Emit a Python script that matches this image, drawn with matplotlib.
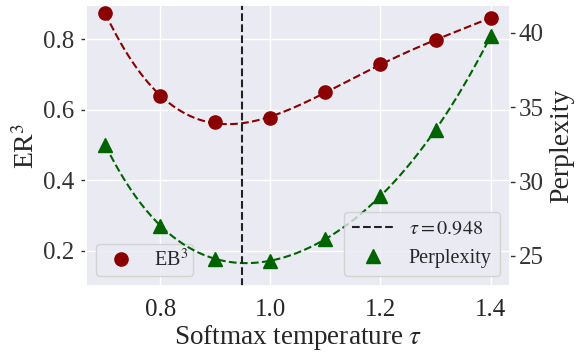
import numpy as np
import matplotlib
matplotlib.use("Agg")
import matplotlib.pyplot as plt
import seaborn as sns
from matplotlib.lines import Line2D

sns.set_theme(style="darkgrid")
plt.rcParams['font.family'] = ['Liberation Serif', 'DejaVu Serif']
plt.rcParams['mathtext.fontset'] = 'stix'
plt.rcParams['ytick.left'] = True
plt.rcParams['ytick.right'] = True
plt.rcParams['ytick.major.size'] = 3.5
plt.rcParams['ytick.major.width'] = 1.0
plt.rcParams['ytick.color'] = '#333333'

temperature = [0.7, 0.8, 0.9, 1.0, 1.1, 1.2, 1.3, 1.4]
eb3 = [0.873, 0.638, 0.566, 0.576, 0.650, 0.729, 0.797, 0.861]
perplexity = [32.45, 27.03, 24.82, 24.68, 26.12, 29.06, 33.47, 39.77]
tau_opt = 0.948

red = '#8B0000'
green = '#006400'

fig, ax1 = plt.subplots(figsize=(5.78, 3.54), dpi=100)
ax2 = ax1.twinx()
ax2.grid(False)

x = np.array(temperature)
xs = np.linspace(x.min(), x.max(), 300)

c1 = np.polyfit(x, eb3, 5)
ax1.plot(xs, np.polyval(c1, xs), '--', color=red, lw=1.5)
ax1.plot(x, eb3, 'o', color=red, ms=9.5, ls='none')

c2 = np.polyfit(x, perplexity, 5)
ax2.plot(xs, np.polyval(c2, xs), '--', color=green, lw=1.5)
ax2.plot(x, perplexity, '^', color=green, ms=9.5, ls='none')
ax2.axvline(tau_opt, color='#222222', ls='--', lw=1.5)

ax1.set_xticks([0.8, 1.0, 1.2, 1.4])
ax1.set_yticks([0.2, 0.4, 0.6, 0.8])
ax2.set_yticks([25, 30, 35, 40])
ax1.set_ylim(0.10, 0.897)
ax2.set_ylim(22.98, 41.88)
ax1.set_xlim(0.665, 1.435)
ax1.tick_params(axis='x', labelsize=18, pad=3)
ax1.tick_params(axis='y', labelsize=18, pad=5)
ax2.tick_params(axis='y', labelsize=18, pad=3)

ax1.set_xlabel(r'Softmax temperature $\tau$', fontsize=19.5, labelpad=2)
ax1.set_ylabel(r'ER$^3$', fontsize=20, labelpad=2)
ax2.set_ylabel('Perplexity', fontsize=20, labelpad=4)

h1 = [Line2D([], [], marker='o', color=red, ls='none', ms=9.5)]
ax1.legend(h1, [r'EB$^3$'], loc='lower left', fontsize=14.5, frameon=True,
           borderpad=0.25, handletextpad=0.6)
h2 = [Line2D([], [], color='#222222', ls='--', lw=1.5),
      Line2D([], [], marker='^', color=green, ls='none', ms=9.5)]
ax2.legend(h2, [r'$\tau = 0.948$', 'Perplexity'], loc='lower right', fontsize=14.5, frameon=True)

fig.subplots_adjust(left=0.149, right=0.882, top=0.986, bottom=0.192)
fig.savefig('out.png', dpi=100)
